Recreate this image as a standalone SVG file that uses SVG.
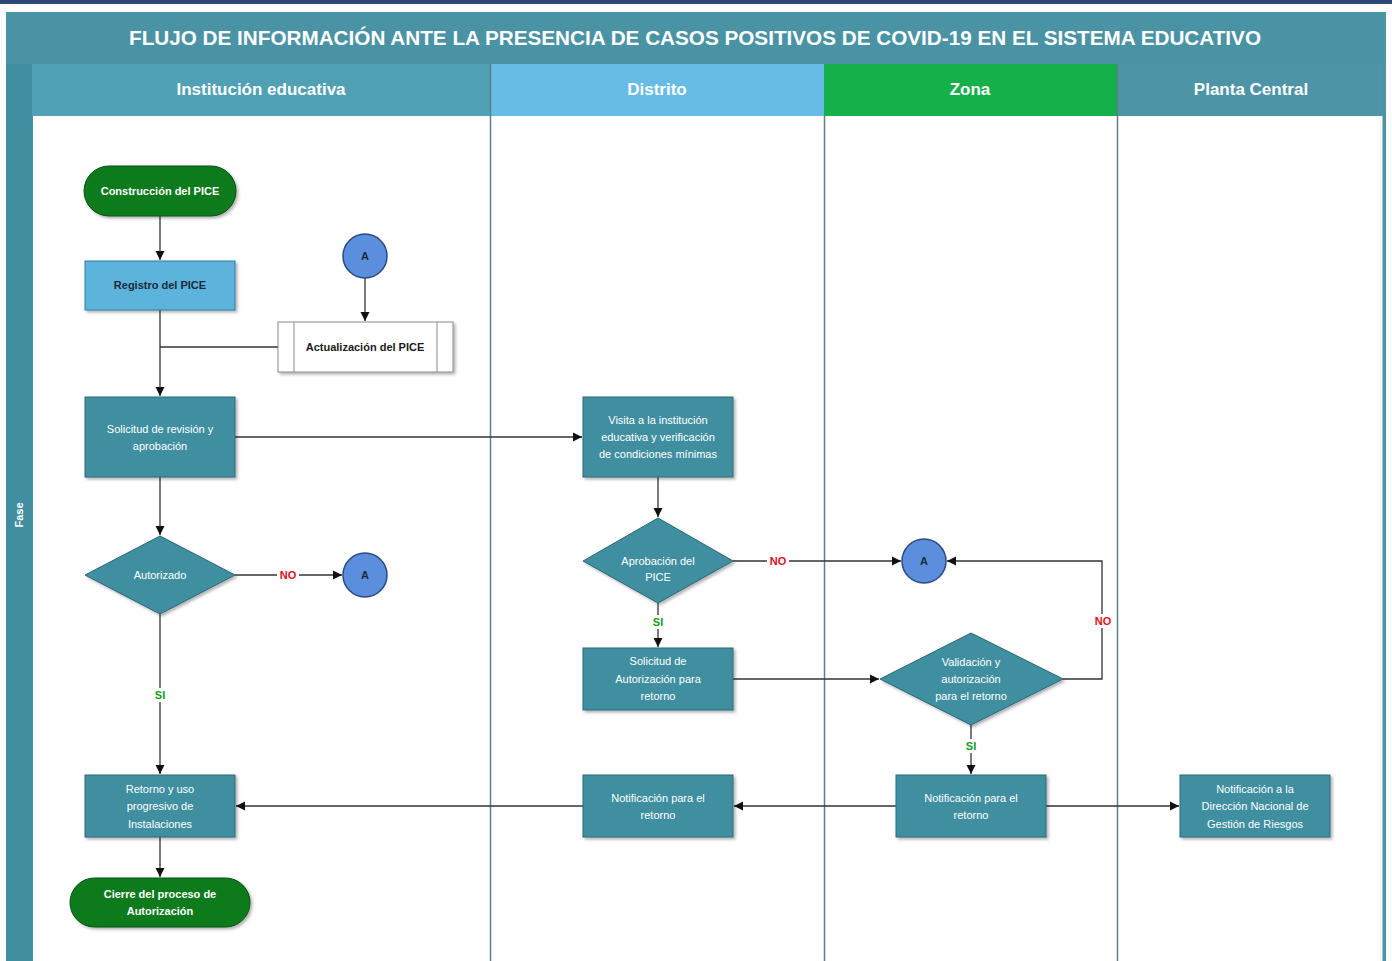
<svg xmlns="http://www.w3.org/2000/svg" width="1392" height="961" viewBox="0 0 1392 961">
<defs>
<style>
.t{font-family:"Liberation Sans",Arial,sans-serif;}
.title{font-size:21px;font-weight:bold;fill:#ffffff;}
.hdr{font-size:17px;font-weight:bold;fill:#ffffff;}
.nt{font-size:11px;fill:#ffffff;text-anchor:middle;}
.nb{font-size:11px;font-weight:bold;text-anchor:middle;}
.box{fill:#3f8fa1;stroke:#2a6878;stroke-width:1;filter:url(#sh);}
.dia{fill:#3f8fa1;stroke:#2a6878;stroke-width:1;filter:url(#sh);}
.term{fill:#0b7a1c;stroke:#065012;stroke-width:1;filter:url(#sh);}
.circ{fill:#5b8fdd;stroke:#2b4a80;stroke-width:1.5;}
.ln{fill:none;stroke:#333333;stroke-width:1.3;}
.lane{stroke:#5d7f87;stroke-width:1.5;}
.no{font-size:11px;font-weight:bold;fill:#e0101a;text-anchor:middle;}
.si{font-size:11px;font-weight:bold;fill:#11a020;text-anchor:middle;}
</style>
<filter id="sh" x="-10%" y="-10%" width="125%" height="130%">
<feDropShadow dx="2" dy="2" stdDeviation="1.5" flood-color="#000000" flood-opacity="0.3"/>
</filter>
<marker id="ar" viewBox="0 0 10 10" refX="10" refY="5" markerWidth="7" markerHeight="7" orient="auto">
<path d="M0,0 L10,5 L0,10 z" fill="#111111"/>
</marker>
</defs>
<rect x="0" y="0" width="1392" height="961" fill="#ffffff"/>
<rect x="0" y="0" width="1392" height="4" fill="#2e4a78"/>
<g id="frame">
<rect x="6" y="12" width="1380" height="949" fill="#4a93a4"/>
<rect x="6" y="12" width="1380" height="52" fill="#4a93a4"/>
<text class="t title" x="695" y="45" text-anchor="middle" textLength="1132" lengthAdjust="spacingAndGlyphs">FLUJO DE INFORMACIÓN ANTE LA PRESENCIA DE CASOS POSITIVOS DE COVID-19 EN EL SISTEMA EDUCATIVO</text>
<rect x="6" y="64" width="26" height="897" fill="#408e9f"/>
<text class="t" x="23" y="515" font-size="11" font-weight="bold" fill="#ffffff" text-anchor="middle" transform="rotate(-90 23 515)">Fase</text>
<rect x="32" y="64" width="458" height="52" fill="#50a1b5"/>
<rect x="490" y="64" width="334" height="52" fill="#66bce4"/>
<rect x="824" y="64" width="293" height="52" fill="#16b04b"/>
<rect x="1117" y="64" width="269" height="52" fill="#4c94a6"/>
<text class="t hdr" x="261" y="95" text-anchor="middle">Institución educativa</text>
<text class="t hdr" x="657" y="95" text-anchor="middle">Distrito</text>
<text class="t hdr" x="970" y="95" text-anchor="middle">Zona</text>
<text class="t hdr" x="1251" y="95" text-anchor="middle">Planta Central</text>
<rect x="33" y="116" width="1350" height="845" fill="#ffffff"/>
<line class="lane" x1="490.5" y1="64" x2="490.5" y2="961"/>
<line class="lane" x1="824.5" y1="116" x2="824.5" y2="961"/>
<line class="lane" x1="1117.5" y1="64" x2="1117.5" y2="961"/>
<line x1="1384" y1="64" x2="1384" y2="961" stroke="#4a93a4" stroke-width="3"/>
</g>
<g id="connectors">
<line class="ln" x1="160" y1="216" x2="160" y2="260" marker-end="url(#ar)"/>
<line class="ln" x1="160" y1="310" x2="160" y2="396" marker-end="url(#ar)"/>
<line class="ln" x1="278" y1="347" x2="160" y2="347"/>
<line class="ln" x1="365" y1="278" x2="365" y2="321" marker-end="url(#ar)"/>
<line class="ln" x1="235" y1="437" x2="582" y2="437" marker-end="url(#ar)"/>
<line class="ln" x1="160" y1="477" x2="160" y2="535" marker-end="url(#ar)"/>
<line class="ln" x1="235" y1="575" x2="342" y2="575" marker-end="url(#ar)"/>
<line class="ln" x1="160" y1="614" x2="160" y2="774" marker-end="url(#ar)"/>
<line class="ln" x1="160" y1="837" x2="160" y2="877" marker-end="url(#ar)"/>
<line class="ln" x1="658" y1="477" x2="658" y2="517" marker-end="url(#ar)"/>
<line class="ln" x1="733" y1="561" x2="901" y2="561" marker-end="url(#ar)"/>
<line class="ln" x1="658" y1="603" x2="658" y2="647" marker-end="url(#ar)"/>
<line class="ln" x1="733" y1="679" x2="879" y2="679" marker-end="url(#ar)"/>
<polyline class="ln" points="1063,679 1102,679 1102,561 947,561" marker-end="url(#ar)"/>
<line class="ln" x1="971" y1="725" x2="971" y2="774" marker-end="url(#ar)"/>
<line class="ln" x1="896" y1="806" x2="734" y2="806" marker-end="url(#ar)"/>
<line class="ln" x1="583" y1="806" x2="236" y2="806" marker-end="url(#ar)"/>
<line class="ln" x1="1046" y1="806" x2="1179" y2="806" marker-end="url(#ar)"/>
<rect x="277" y="569" width="22" height="12" fill="#ffffff"/>
<text class="t no" x="288" y="579">NO</text>
<rect x="767" y="555" width="22" height="12" fill="#ffffff"/>
<text class="t no" x="778" y="565">NO</text>
<rect x="1092" y="614" width="22" height="14" fill="#ffffff"/>
<text class="t no" x="1103" y="625">NO</text>
<rect x="152" y="688" width="16" height="14" fill="#ffffff"/>
<text class="t si" x="160" y="699">SI</text>
<rect x="650" y="615" width="16" height="14" fill="#ffffff"/>
<text class="t si" x="658" y="626">SI</text>
<rect x="963" y="739" width="16" height="14" fill="#ffffff"/>
<text class="t si" x="971" y="750">SI</text>
</g>
<g id="n-construccion">
<rect class="term" x="84" y="166" width="152" height="50" rx="25"/>
<text class="t nb" x="160" y="195" fill="#ffffff">Construcción del PICE</text>
</g>
<g id="n-registro">
<rect x="85" y="261" width="150" height="49" fill="#5bb4dc" stroke="#2f7a9a" filter="url(#sh)"/>
<text class="t nb" x="160" y="289" fill="#1b2a3a">Registro del PICE</text>
</g>
<g id="n-a1">
<circle class="circ" cx="365" cy="256" r="22"/>
<text class="t nb" x="365" y="260" fill="#1b2a3a">A</text>
</g>
<g id="n-actualizacion">
<rect x="278" y="322" width="175" height="50" fill="#ffffff" stroke="#8a8a8a" filter="url(#sh)"/>
<line x1="294" y1="322" x2="294" y2="372" stroke="#8a8a8a"/>
<line x1="437" y1="322" x2="437" y2="372" stroke="#8a8a8a"/>
<text class="t nb" x="365" y="351" fill="#1b1b1b">Actualización del PICE</text>
</g>
<g id="n-solicitud">
<rect class="box" x="85" y="397" width="150" height="80"/>
<text class="t nt" x="160" y="433">Solicitud de revisión y</text>
<text class="t nt" x="160" y="450">aprobación</text>
</g>
<g id="n-autorizado">
<polygon class="dia" points="160,536 235,575 160,614 85,575"/>
<text class="t nt" x="160" y="579">Autorizado</text>
</g>
<g id="n-a2">
<circle class="circ" cx="365" cy="575" r="22"/>
<text class="t nb" x="365" y="579" fill="#1b2a3a">A</text>
</g>
<g id="n-retorno">
<rect class="box" x="85" y="775" width="150" height="62"/>
<text class="t nt" x="160" y="793">Retorno y uso</text>
<text class="t nt" x="160" y="810">progresivo de</text>
<text class="t nt" x="160" y="828">Instalaciones</text>
</g>
<g id="n-cierre">
<rect class="term" x="70" y="878" width="180" height="49" rx="24.5"/>
<text class="t nb" x="160" y="898" fill="#ffffff">Cierre del proceso de</text>
<text class="t nb" x="160" y="915" fill="#ffffff">Autorización</text>
</g>
<g id="n-visita">
<rect class="box" x="583" y="397" width="150" height="80"/>
<text class="t nt" x="658" y="424">Visita a la institución</text>
<text class="t nt" x="658" y="441">educativa y verificación</text>
<text class="t nt" x="658" y="458">de condiciones mínimas</text>
</g>
<g id="n-aprobacion">
<polygon class="dia" points="658,518 733,561 658,603 583,561"/>
<text class="t nt" x="658" y="565">Aprobación del</text>
<text class="t nt" x="658" y="581">PICE</text>
</g>
<g id="n-solautorizacion">
<rect class="box" x="583" y="648" width="150" height="62"/>
<text class="t nt" x="658" y="665">Solicitud de</text>
<text class="t nt" x="658" y="683">Autorización para</text>
<text class="t nt" x="658" y="700">retorno</text>
</g>
<g id="n-notif-distrito">
<rect class="box" x="583" y="775" width="150" height="62"/>
<text class="t nt" x="658" y="802">Notificación para el</text>
<text class="t nt" x="658" y="819">retorno</text>
</g>
<g id="n-a3">
<circle class="circ" cx="924" cy="561" r="22"/>
<text class="t nb" x="924" y="565" fill="#1b2a3a">A</text>
</g>
<g id="n-validacion">
<polygon class="dia" points="971,633 1063,679 971,725 880,679"/>
<text class="t nt" x="971" y="666">Validación y</text>
<text class="t nt" x="971" y="683">autorización</text>
<text class="t nt" x="971" y="700">para el retorno</text>
</g>
<g id="n-notif-zona">
<rect class="box" x="896" y="775" width="150" height="62"/>
<text class="t nt" x="971" y="802">Notificación para el</text>
<text class="t nt" x="971" y="819">retorno</text>
</g>
<g id="n-notif-planta">
<rect class="box" x="1180" y="775" width="150" height="62"/>
<text class="t nt" x="1255" y="793">Notificación a la</text>
<text class="t nt" x="1255" y="810">Dirección Nacional de</text>
<text class="t nt" x="1255" y="828">Gestión de Riesgos</text>
</g>
</svg>
